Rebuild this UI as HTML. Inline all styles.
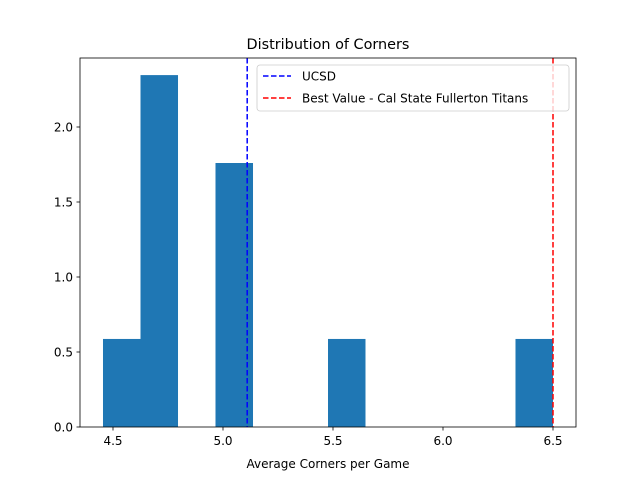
<!DOCTYPE html>
<html><head><meta charset="utf-8"><style>body{margin:0;background:#fff}svg{font-family:"DejaVu Sans","Liberation Sans",sans-serif}</style></head>
<body>
<svg id="c" width="640" height="480" xmlns="http://www.w3.org/2000/svg">
<rect width="640" height="480" fill="#fff"/>
<text x="328" y="49" font-size="14.4" text-anchor="middle">Distribution of Corners</text>
<g id="bars"></g><g id="ticks"></g><g id="vlines"></g>
<rect x="80" y="58" width="496" height="369" fill="none" stroke="#000" stroke-width="0.8"/>
<text x="328" y="468" font-size="12" text-anchor="middle">Average Corners per Game</text>
<g>
<rect x="257" y="65" width="312" height="46" rx="3" fill="#fff" fill-opacity="0.8" stroke="#ccc" stroke-width="0.8"/>
<line x1="263" y1="76" x2="291" y2="76" stroke="#0000ff" stroke-width="1.5" stroke-dasharray="5.5,2.5"/>
<text x="302" y="80.5" font-size="12">UCSD</text>
<line x1="263" y1="98" x2="291" y2="98" stroke="#ff0000" stroke-width="1.5" stroke-dasharray="5.5,2.5"/>
<text x="302" y="102.5" font-size="12">Best Value - Cal State Fullerton Titans</text>
</g>
</svg>
<script>
const binEdges=[4.4545,4.625,4.7955,4.9659,5.1364,5.3068,5.4773,5.6477,5.8182,5.9886,6.1591,6.3295,6.5];
const densities=[0.587,2.346,0,1.760,0,0,0.587,0,0,0,0,0.587];
const xTicks=[4.5,5.0,5.5,6.0,6.5];
const yTicks=[0.0,0.5,1.0,1.5,2.0];
const ucsdValue=5.11;
const bestValue=6.5;
const NS="http://www.w3.org/2000/svg";
const X=v=>113+(v-4.5)*220;
const Y=v=>427-v*150;
function mk(t,a,p){const e=document.createElementNS(NS,t);for(const k in a)e.setAttribute(k,a[k]);p.appendChild(e);return e;}
const bars=document.getElementById('bars');
densities.forEach((d,i)=>{if(d<=0)return;
const r=mk('rect',{x:X(binEdges[i]),y:Y(d),width:X(binEdges[i+1])-X(binEdges[i]),height:Y(0)-Y(d),fill:'#1f77b4'},bars);

});
const tk=document.getElementById('ticks');
xTicks.forEach(v=>{mk('line',{x1:X(v),x2:X(v),y1:427,y2:430.5,stroke:'#000','stroke-width':0.8},tk);
const t=mk('text',{x:X(v),y:445,'font-size':12,'text-anchor':'middle'},tk);t.textContent=v.toFixed(1);

});
yTicks.forEach(v=>{mk('line',{x1:76.5,x2:80,y1:Y(v),y2:Y(v),stroke:'#000','stroke-width':0.8},tk);
const t=mk('text',{x:73,y:Y(v)+4.5,'font-size':12,'text-anchor':'end'},tk);t.textContent=v.toFixed(1);

});
const vl=document.getElementById('vlines');
const l1=mk('line',{x1:X(ucsdValue),x2:X(ucsdValue),y1:58,y2:427,stroke:'#0000ff','stroke-width':1.5,'stroke-dasharray':'5.5,2.5'},vl);


const l2=mk('line',{x1:X(bestValue),x2:X(bestValue),y1:58,y2:427,stroke:'#ff0000','stroke-width':1.5,'stroke-dasharray':'5.5,2.5'},vl);


</script>
</body></html>
